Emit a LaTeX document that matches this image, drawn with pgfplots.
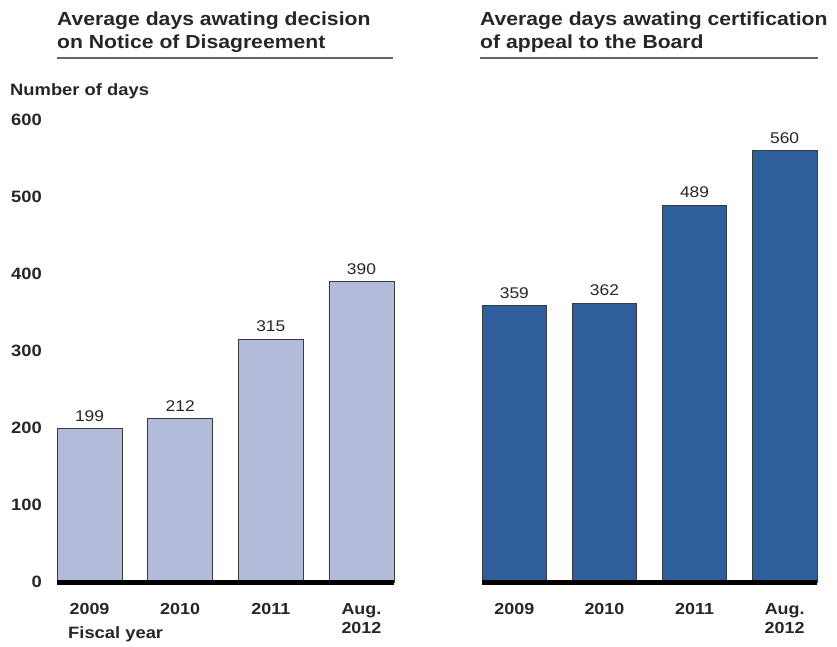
\documentclass[border=0pt]{standalone}
\usepackage{fontspec}
\setmainfont{Liberation Sans}[FakeStretch=1.12]
\usepackage{pgfplots}
\pgfplotsset{compat=1.18}
\definecolor{lightbar}{HTML}{B3BBDB}
\definecolor{darkbar}{HTML}{2E5E9C}
\definecolor{txt}{HTML}{262626}
\definecolor{barline}{HTML}{3A3A3A}
\pgfplotsset{
  panel/.style={
    scale only axis, height=462bp,
    /pgf/number format/assume math mode=true,
    ymin=0, ymax=600, xmin=-0.359, xmax=3.359,
    axis line style={draw=none}, tick style={draw=none},
    major tick length=0pt,
    ybar, bar shift=0pt, clip=false,
    xtick={0,1,2,3},
    xticklabels={2009,2010,2011,{Aug.\\2012}},
    xticklabel style={font=\fontsize{16bp}{19bp}\selectfont\bfseries, text=txt,
      align=center, anchor=north, inner sep=0pt, yshift=-21bp},
    nodes near coords,
    every node near coord/.append style={font=\fontsize{15.5bp}{18bp}\selectfont,
      text=txt, anchor=south, inner sep=0pt, yshift=7bp},
  },
}
\begin{document}
\begin{tikzpicture}
\useasboundingbox (0bp,0bp) rectangle (837bp,-647bp);
% left panel
\begin{axis}[panel, at={(57bp,-582bp)}, anchor=south west, width=337bp,
  bar width=65bp,
  ytick={0,100,...,600},
  yticklabel style={font=\fontsize{16.4bp}{19bp}\selectfont\bfseries, text=txt,
    anchor=east, inner sep=0pt, xshift=-15bp}]
\addplot[fill=lightbar, draw=barline, line width=0.8bp] coordinates {(0,199) (1,212) (2,315) (3,390)};
\draw[black, line width=5bp] (rel axis cs:0,0) -- (rel axis cs:1,0);
\end{axis}
% right panel
\begin{axis}[panel, at={(482bp,-582bp)}, anchor=south west, width=335bp,
  bar width=64.5bp, ytick=\empty]
\addplot[fill=darkbar, draw=barline, line width=0.8bp] coordinates {(0,359) (1,362) (2,489) (3,560)};
\draw[black, line width=5bp] (rel axis cs:0,0) -- (rel axis cs:1,0);
\end{axis}
% titles
\node[anchor=base west, inner sep=0pt, align=left, text=txt,
  font=\fontsize{18.9bp}{23bp}\selectfont\bfseries] at (57bp,-48bp)
  {Average days awating decision\\on Notice of Disagreement};
\node[anchor=base west, inner sep=0pt, align=left, text=txt,
  font=\fontsize{18.9bp}{23bp}\selectfont\bfseries] at (480bp,-48bp)
  {Average days awating certification\\of appeal to the Board};
\draw[gray!80!black, line width=1.5bp] (57bp,-58bp) -- (393bp,-58bp);
\draw[gray!80!black, line width=1.5bp] (480bp,-58bp) -- (818bp,-58bp);
\node[anchor=base west, inner sep=0pt, text=txt,
  font=\fontsize{16.4bp}{19bp}\selectfont\bfseries] at (10bp,-95bp) {Number of days};
\node[anchor=base west, inner sep=0pt, text=txt,
  font=\fontsize{16.4bp}{19bp}\selectfont\bfseries] at (68bp,-638bp) {Fiscal year};
\end{tikzpicture}
\end{document}
